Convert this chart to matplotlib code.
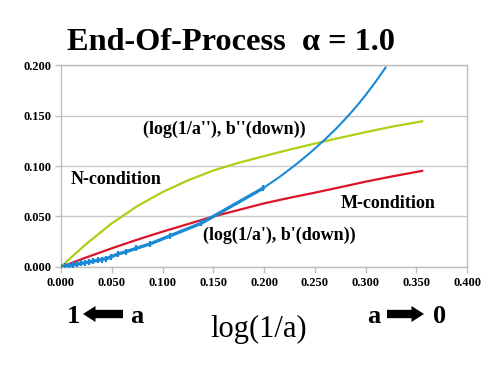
import numpy as np
import matplotlib
matplotlib.use("Agg")
import matplotlib.pyplot as plt
from matplotlib.patches import FancyArrowPatch

# data
green_x = [0.0, 0.01, 0.025, 0.05, 0.075, 0.1, 0.125, 0.15, 0.175, 0.2, 0.225, 0.25, 0.275, 0.3, 0.325, 0.3557]
green_y = [0.0, 0.0095, 0.0229, 0.0432, 0.0602, 0.0742, 0.0858, 0.0955, 0.1032, 0.1098, 0.1162, 0.1222,
           0.1280, 0.1335, 0.1388, 0.1443]

red_x = [0.0, 0.025, 0.05, 0.075, 0.1, 0.125, 0.15, 0.175, 0.2, 0.225, 0.25, 0.275, 0.3, 0.325, 0.3557]
red_y = [0.0, 0.0095, 0.0185, 0.027, 0.035, 0.0425, 0.050, 0.0565, 0.063, 0.0685, 0.0736, 0.079, 0.0845, 0.0895, 0.0952]

# blue: points with markers (a' series)
blue_mx = [0.0, 0.004, 0.008, 0.012, 0.016, 0.020, 0.024, 0.028, 0.032, 0.036, 0.040, 0.0447,
           0.0496, 0.0562, 0.0644, 0.0742, 0.0875, 0.107, 0.138, 0.199]
blue_my = [0.0, 0.0007, 0.0014, 0.0021, 0.0028, 0.0035, 0.0043, 0.0050, 0.0058, 0.0066, 0.0074, 0.0082,
           0.0102, 0.0129, 0.0152, 0.0185, 0.0228, 0.0307, 0.0432, 0.078]
# blue: thin continuation (a'' side)
blue_tx = [0.199, 0.215, 0.231, 0.245, 0.260, 0.272, 0.283, 0.292, 0.300, 0.310, 0.3195]
blue_ty = [0.078, 0.0890, 0.1012, 0.1128, 0.1263, 0.1381, 0.1499, 0.1603, 0.1703, 0.1837, 0.1973]

x_ticks = [0.0, 0.05, 0.1, 0.15, 0.2, 0.25, 0.3, 0.35, 0.4]
y_ticks = [0.0, 0.05, 0.1, 0.15, 0.2]

plt.rcParams["font.family"] = ["Liberation Serif", "DejaVu Serif"]

fig = plt.figure(figsize=(5.04, 3.84), dpi=100)
ax = fig.add_axes([0.121, 0.3047, 0.806, 0.526])

ax.plot(green_x, green_y, color="#ADCF16", lw=1.6, zorder=3)
ax.plot(red_x, red_y, color="#DC1428", lw=1.6, zorder=3)
ax.plot(blue_tx, blue_ty, color="#1A8AD4", lw=1.5, zorder=4)
ax.plot(blue_mx, blue_my, color="#1A8AD4", lw=2.4, marker="|", ms=5, mew=1.6, zorder=4)

ax.set_xlim(0, 0.4)
ax.set_ylim(0, 0.2)
ax.set_xticks(x_ticks)
ax.set_yticks(y_ticks)
ax.set_xticklabels(["{0:.3f}".format(v) for v in x_ticks])
ax.set_yticklabels(["{0:.3f}".format(v) for v in y_ticks])

# only horizontal grid
ax.grid(axis="y", color="#C8C8C8", lw=1.0)
ax.set_axisbelow(True)
for s in ax.spines.values():
    s.set_color("#BEBEBE")
    s.set_linewidth(1.0)
ax.tick_params(axis="both", direction="out", length=4, width=1.0, color="#BEBEBE",
               labelsize=9, pad=3)
for tick in ax.get_xticklabels() + ax.get_yticklabels():
    tick.set_fontweight("bold")

# curve labels
lbl = dict(fontsize=13, fontweight="bold", ha="left", va="center")
ax.text(0.0808, 0.1366, "(log(1/a''), b''(down))", **lbl)
ax.text(0.0099, 0.0871, "N-condition", **lbl)
ax.text(0.2749, 0.0624, "M-condition", **lbl)
ax.text(0.140, 0.0317, "(log(1/a'), b'(down))", **lbl)

# title
fig.text(0.459, 0.8698, "End-Of-Process  \u03b1 = 1.0", fontsize=23.3, fontweight="bold",
         ha="center", va="baseline")

# bottom labels
fig.text(0.514, 0.1224, "log(1/a)", fontsize=22, ha="center", va="baseline")
fig.text(0.133, 0.159, "1", fontsize=19, fontweight="bold", ha="left", va="baseline")
fig.text(0.258, 0.159, "a", fontsize=19, fontweight="bold", ha="left", va="baseline")
fig.text(0.728, 0.159, "a", fontsize=19, fontweight="bold", ha="left", va="baseline")
fig.text(0.859, 0.159, "0", fontsize=19, fontweight="bold", ha="left", va="baseline")

arrow_style = "simple,head_length=9,head_width=11.5,tail_width=6"
y_arr = 1 - 314 / 384
fig.patches.append(FancyArrowPatch((123 / 504, y_arr), (83 / 504, y_arr), transform=fig.transFigure,
                                   arrowstyle=arrow_style, mutation_scale=1, shrinkA=0, shrinkB=0,
                                   color="black", lw=0))
fig.patches.append(FancyArrowPatch((387 / 504, y_arr), (424 / 504, y_arr), transform=fig.transFigure,
                                   arrowstyle=arrow_style, mutation_scale=1, shrinkA=0, shrinkB=0,
                                   color="black", lw=0))

fig.savefig("out.png", dpi=100)
